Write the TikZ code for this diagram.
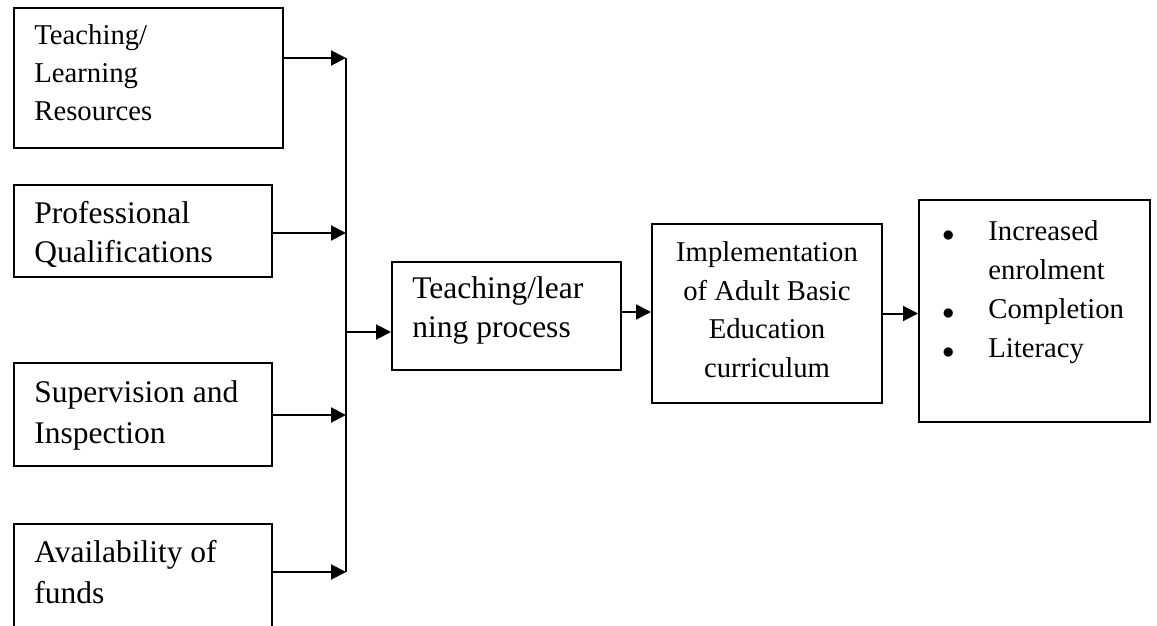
\documentclass[tikz,border=0pt]{standalone}
\usepackage{fontspec}
\setmainfont{Liberation Serif}
\usetikzlibrary{arrows.meta}
\newcommand\bigf{\fontsize{15.75}{19.5}\selectfont}
\newcommand\smallf{\fontsize{14.35}{19.25}\selectfont}
\newcommand\mybul{\raisebox{-0.8pt}{\fontsize{13}{13}\selectfont$\bullet$}}
\begin{document}
\begin{tikzpicture}[x=0.5pt,y=-0.5pt,
  box/.style={draw, line width=1pt, inner sep=0pt},
  txt/.style={inner sep=0pt, align=left, anchor=base west},
  conn/.style={line width=1pt},
  arr/.style={line width=1pt, -{Triangle[length=7.5pt,width=7.5pt]}}]
\useasboundingbox (0,0) rectangle (1157,626);
% boxes
\node[box, minimum width=134.5pt, minimum height=70pt] (b1) at (148.5,78) {};
\node[box, minimum width=129pt, minimum height=46pt] (b2) at (143,231) {};
\node[box, minimum width=129pt, minimum height=51.5pt] (b3) at (143,414.5) {};
\node[box, minimum width=129pt, minimum height=68pt] (b4) at (143,592) {};
\node[box, minimum width=114.5pt, minimum height=54pt] (p) at (506.5,316) {};
\node[box, minimum width=115pt, minimum height=89.5pt] (imp) at (767,313.5) {};
\node[box, minimum width=115.5pt, minimum height=111pt] (out) at (1034.5,311) {};
% texts (anchored at the baseline of the last line)
\node[txt, font=\smallf] (t1) at (34,121) {Teaching/\\Learning\\Resources};
\node[txt, font=\bigf] (t2) at (34,262) {Professional\\Qualifications};
\node[txt, font=\fontsize{15.75}{20.25}\selectfont] (t3) at (34,443) {Supervision and\\Inspection};
\node[txt, font=\fontsize{15.75}{20.5}\selectfont] (t4) at (34,603) {Availability of\\funds};
\node[txt, font=\bigf] (tp) at (412,337) {Teaching/lear\\ning process};
\node[txt, font=\smallf, align=center, anchor=base] (ti) at (767,377) {Implementation\\of Adult Basic\\Education\\curriculum};
\node[txt, font=\fontsize{14.35}{19.5}\selectfont] (to) at (942,357) {%
\begin{tabular}[b]{@{}p{23pt}@{}l@{}}
\mybul & Increased\\
 & enrolment\\
\mybul & Completion\\
\mybul & Literacy
\end{tabular}};
% junction points
\coordinate (j1) at (346,58);
\coordinate (j2) at (346,233);
\coordinate (j3) at (346,415);
\coordinate (j4) at (346,572);
\coordinate (jm) at (346,332);
\coordinate (a2) at (640,312);
% connectors
\draw[arr] (b1.east |- j1) -- (j1);
\draw[arr] (b2.east |- j2) -- (j2);
\draw[arr] (b3.east |- j3) -- (j3);
\draw[arr] (b4.east |- j4) -- (j4);
\draw[conn] (j1) -- (j4);
\draw[arr] (jm) -- (p.west |- jm);
\draw[arr] (p.east |- a2) -- (imp.west |- a2);
\draw[arr] (imp.east) -- (out.west |- imp.east);
\end{tikzpicture}
\end{document}
